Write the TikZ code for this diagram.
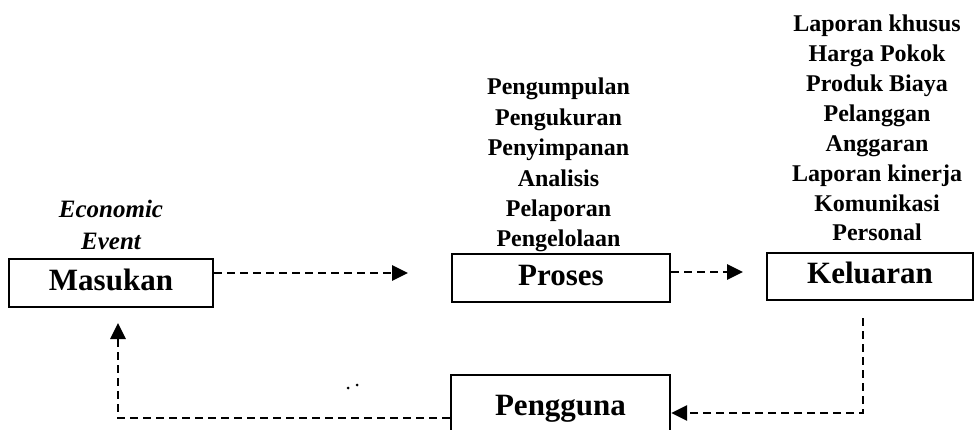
\documentclass[tikz,border=0pt]{standalone}
\usepackage{fontspec}
\setmainfont{Liberation Serif}
\usetikzlibrary{arrows.meta,calc}
\begin{document}
\begin{tikzpicture}[x=1pt,y=-1pt,
  box/.style={draw,line width=2.4pt,inner sep=0pt,
    font=\fontsize{31}{31}\selectfont\bfseries,text height=20pt,text depth=6pt},
  item/.style={anchor=base,inner sep=0pt,font=\fontsize{24}{30}\selectfont\bfseries},
  ev/.style={anchor=base,inner sep=0pt,font=\fontsize{25}{32}\selectfont\bfseries\itshape},
  flow/.style={line width=2.8pt,dash pattern=on 8pt off 5pt,
    -{Triangle[length=16pt,width=15pt]}}]
\useasboundingbox (0,0) rectangle (976,430);
\clip (0,0) rectangle (976,430);

% boxes
\node[box,minimum width=204pt,minimum height=48pt] (masukan) at (111,283) {Masukan};
\node[box,minimum width=218pt,minimum height=48pt] (proses) at (561,278) {Proses};
\node[box,minimum width=206pt,minimum height=47pt] (keluaran) at (870,276.5) {Keluaran};
\node[box,minimum width=219pt,minimum height=66pt] (pengguna) at (560.5,408) {Pengguna};

% economic event
\node[ev] (ev1) at (111,218) {Economic};
\node[ev] (ev2) at (111,250) {Event};

% proses list
\foreach \t [count=\i from 0] in {Pengumpulan,Pengukuran,Penyimpanan,Analisis,Pelaporan,Pengelolaan}
  \node[item] (p\i) at (558.5,95+30.4*\i) {\t};

% keluaran list
\foreach \t [count=\i from 0] in {Laporan khusus,Harga Pokok,Produk Biaya,Pelanggan,Anggaran,Laporan kinerja,Komunikasi,Personal}
  \node[item] (k\i) at (877,32+29.85*\i) {\t};

% connector end points
\coordinate (a1) at (408,273);
\coordinate (a2) at (743,272);
\coordinate (kd) at (863,318);
\coordinate (mu) at (118,323);

\draw[flow] ([yshift=10pt]masukan.east) -- (a1);
\draw[flow] ([yshift=6pt]proses.east) -- (a2);
\draw[flow] (kd) |- ([yshift=-5pt]pengguna.east);
\draw[flow] ([yshift=-10pt]pengguna.west) -| (mu);

% stray marks
\fill (348,388) circle (1.5pt);
\fill (357,385) circle (1.5pt);
\end{tikzpicture}
\end{document}
